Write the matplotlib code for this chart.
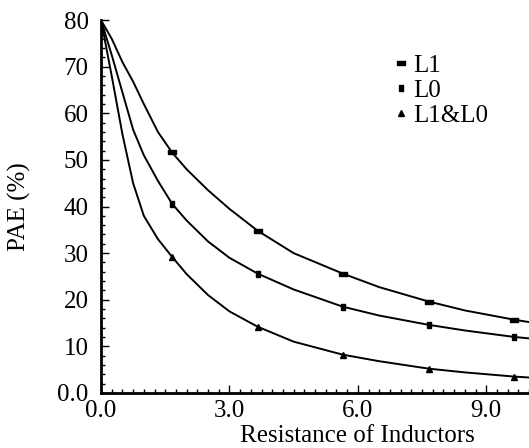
import matplotlib
matplotlib.use("Agg")
import matplotlib.pyplot as plt
from matplotlib.lines import Line2D
from matplotlib.ticker import MultipleLocator, FixedLocator, FixedFormatter

plt.rcParams['font.family'] = ['Liberation Serif', 'DejaVu Serif']

x = [0, 0.25, 0.5, 0.75, 1.0, 1.33, 1.66, 2.0, 2.5, 3.0, 3.66, 4.5, 5.65, 6.5, 7.66, 8.5, 9.66, 10.0]
l1 = [80, 76, 71, 66.8, 62, 56, 51.6, 48, 43.5, 39.5, 34.8, 30, 25.6, 22.7, 19.6, 17.7, 15.7, 15.2]
l0 = [80, 72.5, 64.5, 56.5, 51, 45.5, 40.6, 37, 32.5, 29, 25.6, 22.2, 18.5, 16.6, 14.6, 13.4, 12.0, 11.7]
l10 = [80, 68, 55.5, 45, 38, 33, 29.2, 25.5, 21, 17.5, 14.2, 11, 8.2, 6.8, 5.2, 4.4, 3.5, 3.3]
marker_idx = [6, 10, 12, 14, 16]
labels = ['L1', 'L0', 'L1&L0']

xticks = [0, 3, 6, 9]
xticklabels = ["0.0", "3.0", "6.0", "9.0"]
yticks = [0, 10, 20, 30, 40, 50, 60, 70, 80]
yticklabels = ["0.0", "10", "20", "30", "40", "50", "60", "70", "80"]

fig = plt.figure(figsize=(5.29, 4.48), dpi=100)
ax = fig.add_axes([0.191, 0.123, 0.809, 0.832])

hbar = [(-1, -0.45), (1, -0.45), (1, 0.45), (-1, 0.45), (-1, -0.45)]
vbar = [(-0.7, -1), (0.7, -1), (0.7, 1), (-0.7, 1), (-0.7, -1)]
mk = [(hbar, 6), (vbar, 5), ('^', 5)]

for ys, (m, s) in zip([l1, l0, l10], mk):
    ax.plot(x, ys, color='black', lw=1.4, marker=m, ms=s, markevery=marker_idx)

ax.set_xlim(0, 10)
ax.set_ylim(0, 80)
ax.xaxis.set_major_locator(FixedLocator(xticks))
ax.xaxis.set_major_formatter(FixedFormatter(xticklabels))
ax.yaxis.set_major_locator(FixedLocator(yticks))
ax.yaxis.set_major_formatter(FixedFormatter(yticklabels))
ax.xaxis.set_minor_locator(MultipleLocator(0.25))
ax.yaxis.set_minor_locator(MultipleLocator(2))
ax.tick_params(which='both', direction='in', labelsize=18, width=1)
ax.tick_params(which='major', length=6)
ax.tick_params(which='minor', length=3)
ax.tick_params(axis='y', pad=9)
ax.tick_params(axis='x', pad=5)

for s in ['top', 'right']:
    ax.spines[s].set_visible(False)
for s in ['left', 'bottom']:
    ax.spines[s].set_linewidth(2)

ax.set_xlabel('Resistance of Inductors', fontsize=18)
ax.xaxis.set_label_coords(0.60, -0.087)
ax.set_ylabel('PAE (%)', fontsize=18)
ax.yaxis.set_label_coords(-0.163, 0.5)

handles = [Line2D([], [], color='black', linestyle='none', marker=m, ms=s) for m, s in mk]
ax.legend(handles, labels, loc='upper left', bbox_to_anchor=(0.68, 0.915), frameon=False, fontsize=18,
          handlelength=0.5, handletextpad=0.25, labelspacing=0.1, borderpad=0.1, borderaxespad=0)

fig.savefig('out.png', dpi=100)
